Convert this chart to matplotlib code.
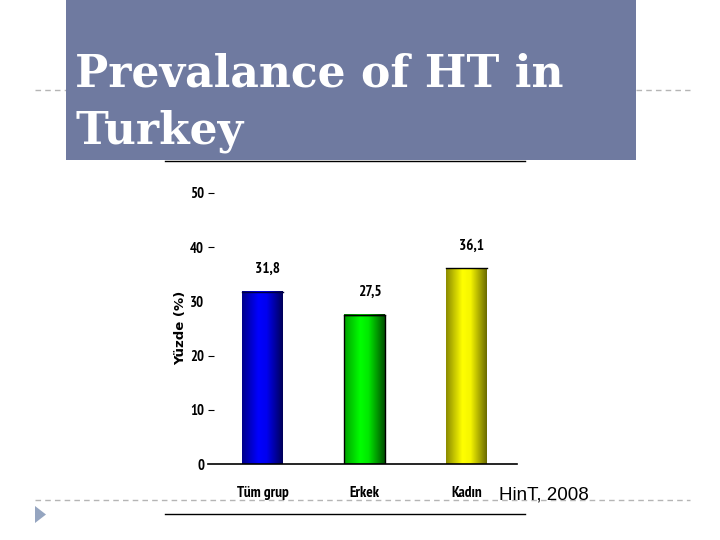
import numpy as np
import matplotlib
matplotlib.use("Agg")
import matplotlib.pyplot as plt
from matplotlib import font_manager
from matplotlib.font_manager import FontProperties
from matplotlib.colors import LinearSegmentedColormap
from matplotlib.patches import Rectangle, Polygon
from matplotlib.lines import Line2D

categories = ["Tüm grup", "Erkek", "Kadın"]
values = [31.8, 27.5, 36.1]
value_labels = ["31,8", "27,5", "36,1"]
yticks = [0, 10, 20, 30, 40, 50]
title = "Prevalance of HT in\nTurkey"
ylabel = "Yüzde (%)"
source = "HinT, 2008"

# find a condensed / narrow font if one exists
cands = [f for f in font_manager.fontManager.ttflist
         if ("Narrow" in f.name or "Condensed" in f.name
             or "condensed" in str(f.stretch))]
cands.sort(key=lambda f: (0 if "bold" in str(f.weight).lower() or str(f.weight) in ("700", "600") else 1,
                          0 if "Narrow" in f.name else 1))
if cands:
    def nfp(size):
        return FontProperties(fname=cands[0].fname, size=size)
else:
    def nfp(size):
        return FontProperties(family="DejaVu Sans", weight="bold", size=size * 0.78)

fig = plt.figure(figsize=(7.2, 5.4), dpi=100)
W, H = 720, 540

def fx(px):
    return px / W

def fy(py):
    return 1 - py / H

# dashed slide lines
for (x0, x1, y) in [(35, 66, 90), (636, 690, 90), (35, 690, 500)]:
    fig.add_artist(Line2D([fx(x0), fx(x1)], [fy(y), fy(y)], color="#b5b5b5",
                          lw=1.0, ls=(0, (4, 3)), zorder=0))

# title box
fig.add_artist(Rectangle((fx(66), fy(160)), fx(636) - fx(66), fy(0) - fy(160),
                         facecolor="#6f7aa0", edgecolor="none", zorder=1))
fig.text(fx(75), fy(103), title, color="white", fontsize=31.8, fontweight="bold",
         family="DejaVu Serif", va="center", ha="left", linespacing=1.42, zorder=2)

# black rules
for y in [161, 514]:
    fig.add_artist(Line2D([fx(165), fx(525)], [fy(y), fy(y)], color="black", lw=1.0))

# triangle bullet
fig.add_artist(Polygon([[fx(35), fy(506)], [fx(35), fy(523)], [fx(46), fy(514.5)]],
                       closed=True, facecolor="#95a5c0", edgecolor="none"))

# chart axes
ax = fig.add_axes([fx(208), fy(464), fx(517) - fx(208), fy(193) - fy(464)])
ax.set_facecolor("none")
x = np.arange(len(categories))
bars = ax.bar(x, values, width=0.40, color="none", edgecolor="none", zorder=2)

cmaps = [
    LinearSegmentedColormap.from_list("b", [(0, "#00008a"), (0.4, "#0000ff"), (0.6, "#0000f0"), (1, "#000058")]),
    LinearSegmentedColormap.from_list("g", [(0, "#00a000"), (0.4, "#00ff00"), (0.6, "#00e800"), (1, "#005000")]),
    LinearSegmentedColormap.from_list("y", [(0, "#8a8a00"), (0.4, "#ffff00"), (0.6, "#f5f500"), (1, "#6a6a00")]),
]
grad = np.linspace(0, 1, 256).reshape(1, -1)
outline = [False, True, False]
top_line = ["#000040", "black", "black"]
for b, cm, ol, tc in zip(bars, cmaps, outline, top_line):
    x0, w, h = b.get_x(), b.get_width(), b.get_height()
    ax.imshow(grad, cmap=cm, aspect="auto", extent=(x0, x0 + w, 0, h), zorder=1)
    if ol:
        ax.add_patch(Rectangle((x0, 0), w, h, facecolor="none",
                               edgecolor="black", lw=1.0, zorder=3))
    ax.plot([x0, x0 + w], [h, h], color=tc, lw=1.0, zorder=3)

for xi, v, lab in zip(x, values, value_labels):
    ax.text(xi + 0.05, v + 4.2, lab, ha="center", va="center",
            fontproperties=nfp(11))

ax.set_xlim(-0.534, 2.495)
ax.set_ylim(0, 50)
for s in ["left", "right", "top"]:
    ax.spines[s].set_visible(False)
ax.spines["bottom"].set_linewidth(1.2)
ax.set_yticks(yticks)
ax.set_yticklabels([str(t) for t in yticks])
for lbl in ax.get_yticklabels():
    lbl.set_fontproperties(nfp(10.5))
ax.tick_params(axis="y", direction="in", length=4, width=0.8, pad=2.8, left=True)
for t, tl in zip(yticks, ax.yaxis.get_major_ticks()):
    if t in (0, 30):
        tl.tick1line.set_visible(False)
ax.set_xticks(x)
ax.set_xticklabels(categories)
for lbl in ax.get_xticklabels():
    lbl.set_fontproperties(nfp(11))
ax.tick_params(axis="x", length=0, pad=16)

fig.text(fx(181), fy(328), ylabel, rotation=90, ha="center", va="center",
         fontsize=9.5, fontweight="bold", family="DejaVu Sans")

fig.text(fx(499), fy(495), source, ha="left", va="center", fontsize=13.5,
         family="Liberation Sans")

fig.savefig("out.png", dpi=100)
